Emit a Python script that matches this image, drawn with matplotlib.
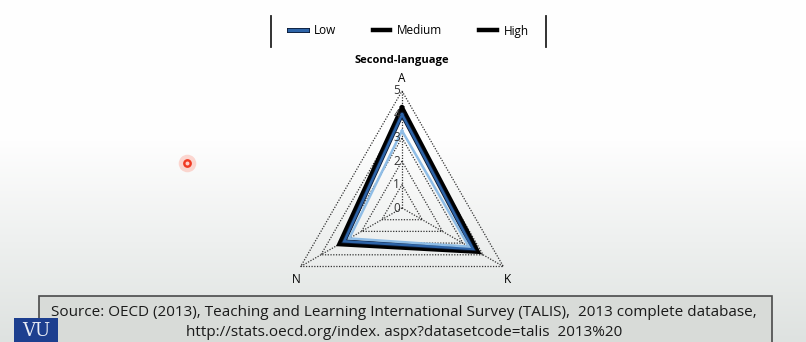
import numpy as np
import matplotlib
matplotlib.use("Agg")
import matplotlib.pyplot as plt
import matplotlib.patheffects as pe
from matplotlib.lines import Line2D
from matplotlib.patches import Rectangle

# 데이터
axes_labels = ["A", "K", "N"]
angles_deg = [90, -30, 210]
ticks = [0, 1, 2, 3, 4, 5]
low = [3.3, 3.3, 2.6]
medium = [4.0, 3.5, 2.85]
high = [4.3, 3.75, 3.1]
title = "Second-language"
source_lines = [
    "Source: OECD (2013), Teaching and Learning International Survey (TALIS),  2013 complete database,",
    "http://stats.oecd.org/index. aspx?datasetcode=talis  2013%20",
]

W, H = 806, 342
fig = plt.figure(figsize=(W / 100, H / 100), dpi=100)

# 배경 그라데이션
bg = fig.add_axes([0, 0, 1, 1])
rows = np.arange(H)
t = np.clip((rows - 140) / (H - 140), 0, 1)
top_c = np.array([254, 254, 254]) / 255
bot_c = np.array([222, 226, 224]) / 255
img = top_c[None, :] * (1 - t[:, None]) + bot_c[None, :] * t[:, None]
bg.imshow(img[:, None, :], aspect="auto", extent=[0, W, H, 0])
bg.set_xlim(0, W)
bg.set_ylim(H, 0)
bg.axis("off")

# 출처 박스
bg.add_patch(Rectangle((39, 296), 733, 50, facecolor="#d8dbd8", edgecolor="#4a4a4a", lw=1.2))
for i, line in enumerate(source_lines):
    bg.text(404, 313 + i * 19, line, ha="center", va="center", fontsize=11,
            family="Open Sans", color="#1a1a1a")

# VU 로고 일부
bg.add_patch(Rectangle((14, 318), 44, 30, facecolor="#1d3f8f", edgecolor="none"))
bg.text(36, 331, "VU", ha="center", va="center", fontsize=13, family="DejaVu Serif",
        color="#e8ecf5")

# 커서 점
bg.scatter([187], [163], s=160, color="#ff6a50", alpha=0.25, lw=0)
bg.scatter([187], [163], s=40, color="#f03a22", lw=0)
bg.scatter([187], [163], s=8, color="#ffd0c8", lw=0)

# 범례 구분선
bg.plot([271, 271], [16, 47], color="#222222", lw=1.3)
bg.plot([546, 546], [16, 47], color="#222222", lw=1.3)

# 레이더 축 (단위 1 = 23.4 px)
u = 23.4
cx, cy = 402, 208
left, right, top, bottom = 272, 532, 70, 290
ax = fig.add_axes([left / W, (H - bottom) / H, (right - left) / W, (bottom - top) / H])
ax.set_xlim((left - cx) / u, (right - cx) / u)
ax.set_ylim((cy - bottom) / u, (cy - top) / u)
ax.axis("off")

ang = np.deg2rad(angles_deg)

def xy(vals):
    v = np.array(list(vals) + [vals[0]], dtype=float)
    a = np.append(ang, ang[0])
    return v * np.cos(a), v * np.sin(a)

# 그리드
for r in ticks[1:]:
    gx, gy = xy([r] * 3)
    ax.plot(gx, gy, color="#333333", lw=0.9, ls=(0, (1, 1.2)))
for a in ang:
    ax.plot([0, 5 * np.cos(a)], [0, 5 * np.sin(a)], color="#333333", lw=0.9, ls=(0, (1, 1.2)))
for r in ticks:
    ax.text(-0.08, r, str(r), ha="right", va="center", fontsize=8.5, family="Open Sans",
            color="#333333")

# 시리즈
hx, hy = xy(high)
ax.plot(hx, hy, color="black", lw=3, solid_joinstyle="miter")
mx, my = xy(medium)
ax.plot(mx, my, color="#2d64a8", lw=1.8, solid_joinstyle="miter",
        path_effects=[pe.Stroke(linewidth=3, foreground="#0c1a33"), pe.Normal()])
lx, ly = xy(low)
ax.plot(lx, ly, color="#8fbde6", lw=1.8, solid_joinstyle="miter")

# 축 라벨
ax.text(0, 5.55, axes_labels[0], ha="center", va="center", fontsize=8.5, family="Open Sans")
ax.text(5.2 * np.cos(ang[1]), 5.2 * np.sin(ang[1]) - 0.45, axes_labels[1], ha="center",
        va="center", fontsize=8.5, family="Open Sans")
ax.text(5.2 * np.cos(ang[2]), 5.2 * np.sin(ang[2]) - 0.45, axes_labels[2], ha="center",
        va="center", fontsize=8.5, family="Open Sans")
ax.text(0, 6.3, title, ha="center", va="center", fontsize=8, fontweight="bold",
        family="Open Sans")

# 범례
handles = [
    Line2D([], [], color="#2d64a8", lw=2.4,
           path_effects=[pe.Stroke(linewidth=3.6, foreground="#0c1a33"), pe.Normal()]),
    Line2D([], [], color="black", lw=3.2),
    Line2D([], [], color="black", lw=3.2),
]
fig.legend(handles, ["Low", "Medium", "High"], loc="center", bbox_to_anchor=(409 / W, 1 - 31 / H),
           ncol=3, frameon=False, handlelength=1.5, columnspacing=3.1, handletextpad=0.6,
           prop={"family": "Open Sans", "size": 8.5})

fig.savefig("out.png", dpi=100)
